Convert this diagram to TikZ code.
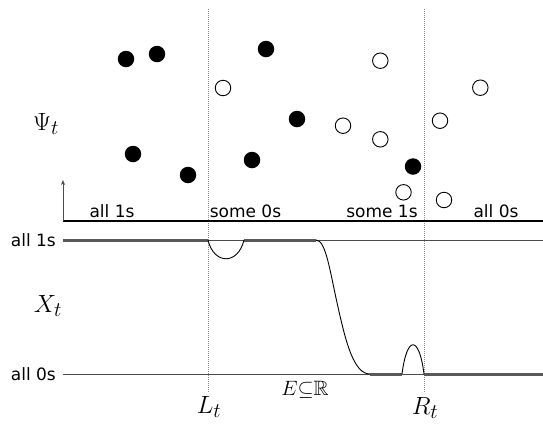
\documentclass[tikz,border=0pt]{standalone}
\usepackage{amssymb}
\usepackage{fontspec}
\setsansfont{DejaVu Sans}
\usetikzlibrary{arrows.meta}
\begin{document}
\begin{tikzpicture}[x=1pt,y=-1pt,
  fulldot/.style={circle,fill=black,minimum size=16.5pt,inner sep=0pt},
  emptydot/.style={circle,draw=black,line width=0.9pt,fill=white,minimum size=15.5pt,inner sep=0pt},
  lab/.style={font=\sffamily\fontsize{17}{20}\selectfont,inner sep=0pt},
  mlab/.style={font=\fontsize{24.88}{28}\selectfont,inner sep=0pt},
  sepline/.style={black!45,line width=1pt,dash pattern=on 1pt off 1pt},
  levelline/.style={black!70,line width=0.9pt},
  thickline/.style={black!65,line width=3pt},
  curve/.style={black,line width=0.9pt},
  axisline/.style={black,line width=1.2pt}
]
\useasboundingbox (0,0) rectangle (543,424);

% separators
\coordinate (Ltop) at (208,9);
\coordinate (Lbot) at (208,392);
\coordinate (Rtop) at (424,9);
\coordinate (Rbot) at (424,392);
\draw[sepline] (Ltop) -- (Lbot);
\draw[sepline] (Rtop) -- (Rbot);

% axis
\coordinate (O) at (63,221);
\coordinate (Oup) at (63,180);
\coordinate (Oright) at (543,221);
\draw[axisline] (O) -- (Oright);
\draw[black!70,line width=1pt,-{Stealth[length=5pt,width=4pt]}] (O) -- (Oup);

\node[lab,anchor=base] (a1) at (112,217) {all 1s};
\node[lab,anchor=base] (s0) at (245.5,217) {some 0s};
\node[lab,anchor=base] (s1) at (382,217) {some 1s};
\node[lab,anchor=base] (a0) at (496,217) {all 0s};

% particles
\node[fulldot] (b1) at (126,59) {};
\node[fulldot] (b2) at (157,54) {};
\node[fulldot] (b3) at (266,49) {};
\node[fulldot] (b4) at (133,154) {};
\node[fulldot] (b5) at (188,175) {};
\node[fulldot] (b6) at (252,160) {};
\node[fulldot] (b7) at (297,119) {};
\node[fulldot] (b8) at (413,166.5) {};

\node[emptydot] (w1) at (223,88) {};
\node[emptydot] (w2) at (380.3,60.7) {};
\node[emptydot] (w3) at (480.3,87.7) {};
\node[emptydot] (w4) at (343,125.7) {};
\node[emptydot] (w5) at (380.3,139.3) {};
\node[emptydot] (w6) at (440,120.7) {};
\node[emptydot] (w7) at (403.5,192.3) {};
\node[emptydot] (w8) at (444,200) {};

\node[mlab] (psi) at (46,124) {$\Psi_t$};

% levels
\coordinate (T0) at (63,240);
\coordinate (T1) at (543,240);
\coordinate (B0) at (63,374);
\coordinate (B1) at (543,374);
\draw[levelline] (T0) -- (T1);
\draw[levelline] (B0) -- (B1);
\node[lab,anchor=east] (l1) at (56,240) {all 1s};
\node[lab,anchor=east] (l0) at (56,374) {all 0s};
\node[mlab] (xt) at (48,306) {$X_t$};

% thick segments
\draw[thickline] (63,240) -- (208,240);
\draw[thickline] (244,240) -- (316,240);
\draw[thickline] (370,374) -- (402,374);
\draw[thickline] (424,374) -- (543,374);

% curves
\draw[curve] (208,240) .. controls (214,265) and (238,265) .. (244,240);
\draw[curve] (316,240) .. controls (326,240) and (330,272) .. (338,307)
  .. controls (346,343) and (354,374) .. (370,374);
\draw[curve] (402,374) .. controls (407,335) and (419,335) .. (424,374);

\node[font=\fontsize{20.74}{24}\selectfont,inner sep=0pt,anchor=base] (E) at (305,395) {$E{\subseteq}\mathbb{R}$};
\node[mlab] (Lt) at (209,407) {$L_t$};
\node[mlab] (Rt) at (425,408) {$R_t$};
\end{tikzpicture}
\end{document}
